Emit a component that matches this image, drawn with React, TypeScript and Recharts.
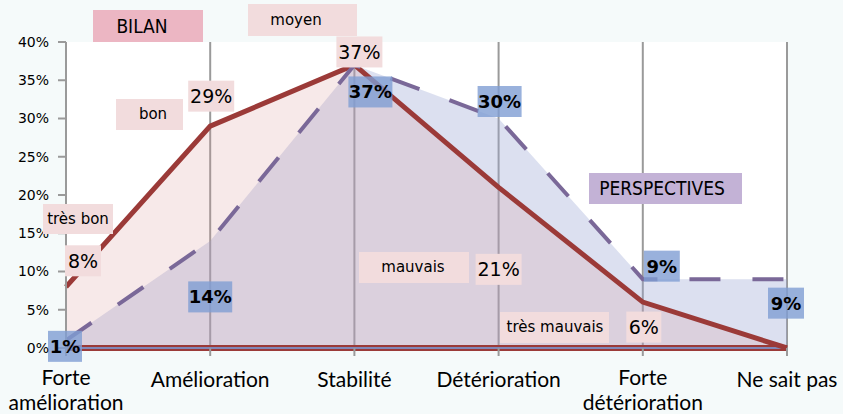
import React from 'react';
import {
  ComposedChart,
  Area,
  Line,
  XAxis,
  YAxis,
  CartesianGrid,
  ReferenceLine,
} from 'recharts';

// ---------- data ----------
const categories = [
  'Forte amélioration',
  'Amélioration',
  'Stabilité',
  'Détérioration',
  'Forte détérioration',
  'Ne sait pas',
];
const categoryLines: string[][] = [
  ['Forte', 'amélioration'],
  ['Amélioration'],
  ['Stabilité'],
  ['Détérioration'],
  ['Forte', 'détérioration'],
  ['Ne sait pas'],
];
const bilan = [8, 29, 37, 21, 6, 0];
const perspectives = [1, 14, 37, 30, 9, 9];
const bilanLabels: (string | null)[] = ['8%', '29%', '37%', '21%', '6%', null];
const perspectivesLabels: (string | null)[] = ['1%', '14%', '37%', '30%', '9%', '9%'];
const yTicks = [0, 5, 10, 15, 20, 25, 30, 35, 40];

// annotation texts
const annotationTexts = ['BILAN', 'moyen', 'bon', 'très bon', 'mauvais', 'très mauvais', 'PERSPECTIVES'];

// ---------- styles (positions of free annotations, label offsets) ----------
const annotationStyles = [
  { left: 93, top: 10, w: 110, h: 32, bg: '#ecb6c3', cx: 142, font: 'DejaVu Sans Condensed', size: 19 },
  { left: 248, top: 4, w: 109, h: 32, bg: '#f2dcdd', cx: 296, font: 'DejaVu Sans', size: 15 },
  { left: 116, top: 99, w: 67, h: 31, bg: '#f2dcdd', cx: 153, font: 'DejaVu Sans', size: 15 },
  { left: 43, top: 204, w: 70, h: 30, bg: '#f2dcdd', cx: 78, font: 'DejaVu Sans', size: 15 },
  { left: 359, top: 252, w: 110, h: 31, bg: '#f2dcdd', cx: 413, font: 'DejaVu Sans', size: 15 },
  { left: 500, top: 312, w: 109, h: 31, bg: '#f2dcdd', cx: 555, font: 'DejaVu Sans', size: 15 },
  { left: 589, top: 173, w: 153, h: 31, bg: '#c3b2d6', cx: 662, font: 'DejaVu Sans Condensed', size: 19 },
];

const bilanOffsets = [[17, -26], [1, -30], [5, -13], [0, 82], [1, 25], [0, 0]];
const bilanBoxW = [36, 46, 46, 46, 35, 0];
const perspOffsets = [[-1, 6], [0, 56], [16, 27], [1, -17], [19, -13], [-1, 24]];
const perspBoxW = [34, 44, 44, 44, 36, 36];

const RED = '#9b3a38';
const PURPLE = '#7a6898';

const data = categories.map((c, i) => ({
  cat: c,
  bilan: bilan[i],
  persp: perspectives[i],
}));

const makeLabelDot =
  (
    labels: (string | null)[],
    offsets: number[][],
    widths: number[],
    fill: string,
    opacity: number,
    bold: boolean
  ) =>
  (props: any) => {
    const { cx, cy, index } = props;
    const text = labels[index];
    if (!text || cx == null || cy == null) return <g key={`l-${index}`} />;
    const x = cx + offsets[index][0];
    const y = cy + offsets[index][1];
    const w = widths[index];
    const h = 31;
    return (
      <g key={`l-${index}`}>
        <rect x={x - w / 2} y={y - h / 2} width={w} height={h} fill={fill} fillOpacity={opacity} />
        <text
          x={x}
          y={y}
          dy="0.36em"
          textAnchor="middle"
          fontFamily="DejaVu Sans"
          fontSize={bold ? 18 : 19}
          fontWeight={bold ? 'bold' : 'normal'}
          fill="#000"
        >
          {text}
        </text>
      </g>
    );
  };

const XTick = (props: any) => {
  const { x, y, payload } = props;
  const idx = categories.indexOf(payload.value);
  const lines = categoryLines[idx] || [String(payload.value)];
  const first = lines.length > 1 ? 27 : 29;
  return (
    <g>
      {lines.map((l, i) => (
        <text
          key={i}
          x={x}
          y={y + first + i * 25}
          textAnchor="middle"
          fontFamily="Lato"
          fontSize={21}
          fill="#000"
        >
          {l}
        </text>
      ))}
    </g>
  );
};

export default function App() {
  return (
    <div
      style={{
        position: 'absolute',
        left: 0,
        top: 0,
        width: 843,
        height: 414,
        background: '#f5fafa',
        overflow: 'hidden',
      }}
    >
      <ComposedChart
        width={843}
        height={414}
        data={data}
        margin={{ top: 42, right: 56, bottom: 0, left: 0 }}
      >
        <CartesianGrid horizontal={false} vertical stroke="#9a9a9a" strokeWidth={2} fill="#ffffff" />
        <XAxis
          dataKey="cat"
          scale="point"
          padding={{ left: 0, right: 0 }}
          height={66}
          axisLine={false}
          tickLine={{ stroke: '#9a9a9a', strokeWidth: 2 }}
          tickSize={8}
          tick={<XTick />}
          interval={0}
        />
        <YAxis
          width={66}
          domain={[0, 40]}
          ticks={yTicks}
          interval={0}
          tickFormatter={(v: number) => `${v}%`}
          axisLine={{ stroke: '#9a9a9a', strokeWidth: 2 }}
          tickLine={{ stroke: '#9a9a9a', strokeWidth: 2 }}
          tickSize={8}
          tickMargin={9}
          tick={{ fontFamily: 'DejaVu Sans', fontSize: 14, fill: '#000' }}
        />
        <Area
          dataKey="persp"
          type="linear"
          stroke="none"
          fill="rgb(154,166,211)"
          fillOpacity={0.35}
          isAnimationActive={false}
          activeDot={false}
        />
        <Area
          dataKey="bilan"
          type="linear"
          stroke="none"
          fill="rgb(215,145,145)"
          fillOpacity={0.2}
          isAnimationActive={false}
          activeDot={false}
        />
        <ReferenceLine y={0} stroke={RED} strokeWidth={6} />
        <ReferenceLine y={0} stroke="#8088b8" strokeWidth={2} />
        <ReferenceLine
          segment={[
            { x: categories[0], y: 0 },
            { x: categories[0], y: bilan[0] },
          ]}
          stroke={RED}
          strokeWidth={2}
        />
        <Line
          dataKey="bilan"
          type="linear"
          stroke={RED}
          strokeWidth={5}
          dot={false}
          activeDot={false}
          isAnimationActive={false}
        />
        <Line
          dataKey="persp"
          type="linear"
          stroke={PURPLE}
          strokeWidth={4}
          strokeDasharray="31 32"
          dot={false}
          activeDot={false}
          isAnimationActive={false}
        />
        <Line
          dataKey="bilan"
          stroke="none"
          dot={makeLabelDot(bilanLabels, bilanOffsets, bilanBoxW, '#f2dcdd', 1, false)}
          activeDot={false}
          isAnimationActive={false}
        />
        <Line
          dataKey="persp"
          stroke="none"
          dot={makeLabelDot(perspectivesLabels, perspOffsets, perspBoxW, '#7f9ed3', 0.8, true)}
          activeDot={false}
          isAnimationActive={false}
        />
      </ComposedChart>
      {annotationTexts.map((t, i) => {
        const s = annotationStyles[i];
        return (
          <div
            key={t}
            style={{
              position: 'absolute',
              left: s.left,
              top: s.top,
              width: s.w,
              height: s.h,
              background: s.bg,
            }}
          >
            <div
              style={{
                position: 'absolute',
                left: s.cx - s.left - 100,
                width: 200,
                top: 0,
                height: s.h,
                lineHeight: `${s.h}px`,
                textAlign: 'center',
                fontFamily: s.font,
                fontSize: s.size,
                color: '#000',
                whiteSpace: 'nowrap',
              }}
            >
              {t}
            </div>
          </div>
        );
      })}
    </div>
  );
}
